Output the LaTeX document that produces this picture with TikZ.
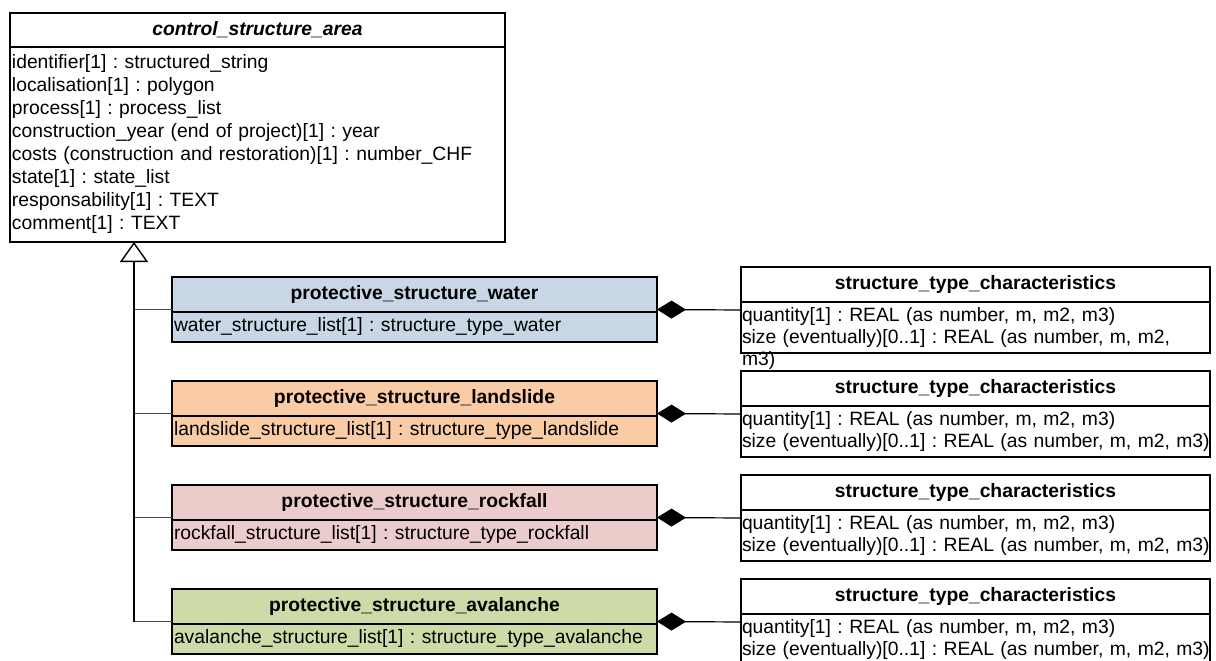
\documentclass[tikz,border=0pt]{standalone}
\usepackage{fontspec}
\setmainfont{Liberation Sans}
\usetikzlibrary{arrows.meta,fit}
\definecolor{watercol}{RGB}{201,214,230}
\definecolor{landslidecol}{RGB}{250,204,166}
\definecolor{rockfallcol}{RGB}{236,203,203}
\definecolor{avalanchecol}{RGB}{204,219,168}
\tikzstyle{every node}=[draw=black,line width=1.4pt,outer sep=0pt,font=\fontsize{19.3}{23}\selectfont]
\tikzstyle{head}=[minimum height=35pt,inner sep=0pt,font=\fontsize{19.3}{23}\selectfont\bfseries]
\tikzstyle{attrs}=[anchor=north,inner xsep=2pt,inner ysep=0pt,align=left]
\tikzstyle{charattrs}=[attrs,inner xsep=1pt,minimum width=469pt,minimum height=51pt,text width=467pt,text height=14pt,text depth=26pt,font=\fontsize{19.3}{22}\selectfont]
\tikzstyle{whole}=[draw=none,inner sep=0pt]
\tikzstyle{generalisation}=[line width=1.4pt,-{Triangle[open,length=20pt,width=28pt]}]
\tikzstyle{branch}=[line width=1pt,black!70]
\tikzstyle{composition}=[line width=1.2pt,{Diamond[length=29pt,width=18pt]}-]

\begin{document}
\frenchspacing
\begin{tikzpicture}[x=1pt,y=-1pt]
	\useasboundingbox (0,0) rectangle (1216,661);
	\clip (0,0) rectangle (1216,661);
	\node[head,minimum width=495pt,minimum height=34pt,font=\fontsize{19.3}{23}\selectfont\bfseries\itshape] (areat) at (257.5,30) {control\_structure\_area};
	\node[attrs,minimum width=495pt,minimum height=195pt,text width=491pt] (areaa) at (areat.south) {identifier[1] : structured\_string\\localisation[1] : polygon\\process[1] : process\_list\\construction\_year (end of project)[1] : year\\costs (construction and restoration)[1] : number\_CHF\\state[1] : state\_list\\responsability[1] : TEXT\\comment[1] : TEXT};

	\node[head,fill=watercol,minimum width=485pt] (watert) at (414.5,294.5) {protective\_structure\_water};
	\node[attrs,fill=watercol,minimum width=485pt,minimum height=30pt,text width=481pt] (watera) at (watert.south) {water\_structure\_list[1] : structure\_type\_water};
	\node[whole,fit=(watert)(watera)] (water) {};
	\node[head,fill=landslidecol,minimum width=485pt] (landslidet) at (414.5,398.5) {protective\_structure\_landslide};
	\node[attrs,fill=landslidecol,minimum width=485pt,minimum height=30pt,text width=481pt] (landslidea) at (landslidet.south) {landslide\_structure\_list[1] : structure\_type\_landslide};
	\node[whole,fit=(landslidet)(landslidea)] (landslide) {};
	\node[head,fill=rockfallcol,minimum width=485pt] (rockfallt) at (414.5,502.5) {protective\_structure\_rockfall};
	\node[attrs,fill=rockfallcol,minimum width=485pt,minimum height=30pt,text width=481pt] (rockfalla) at (rockfallt.south) {rockfall\_structure\_list[1] : structure\_type\_rockfall};
	\node[whole,fit=(rockfallt)(rockfalla)] (rockfall) {};
	\node[head,fill=avalanchecol,minimum width=485pt] (avalanchet) at (414.5,606.5) {protective\_structure\_avalanche};
	\node[attrs,fill=avalanchecol,minimum width=485pt,minimum height=30pt,text width=481pt] (avalanchea) at (avalanchet.south) {avalanche\_structure\_list[1] : structure\_type\_avalanche};
	\node[whole,fit=(avalanchet)(avalanchea)] (avalanche) {};

	\node[head,minimum width=469pt] (chart1) at (975.5,284.5) {structure\_type\_characteristics};
	\node[charattrs] (chara1) at (chart1.south) {quantity[1] : REAL (as number, m, m2, m3)\\size (eventually)[0..1] : REAL (as number, m, m2,\\m3)};
	\node[whole,fit=(chart1)(chara1)] (char1) {};
	\node[head,minimum width=469pt] (chart2) at (975.5,388.5) {structure\_type\_characteristics};
	\node[charattrs] (chara2) at (chart2.south) {quantity[1] : REAL (as number, m, m2, m3)\\\mbox{size (eventually)[0..1] : REAL (as number, m, m2, m3)}};
	\node[whole,fit=(chart2)(chara2)] (char2) {};
	\node[head,minimum width=469pt] (chart3) at (975.5,492.5) {structure\_type\_characteristics};
	\node[charattrs] (chara3) at (chart3.south) {quantity[1] : REAL (as number, m, m2, m3)\\\mbox{size (eventually)[0..1] : REAL (as number, m, m2, m3)}};
	\node[whole,fit=(chart3)(chara3)] (char3) {};
	\node[head,minimum width=469pt] (chart4) at (975.5,596.5) {structure\_type\_characteristics};
	\node[charattrs] (chara4) at (chart4.south) {quantity[1] : REAL (as number, m, m2, m3)\\\mbox{size (eventually)[0..1] : REAL (as number, m, m2, m3)}};
	\node[whole,fit=(chart4)(chara4)] (char4) {};

	\coordinate (fork) at ([xshift=124pt]areaa.south west);
	\draw[branch] (water.west) -- (water.west -| fork);
	\draw[branch] (landslide.west) -- (landslide.west -| fork);
	\draw[branch] (rockfall.west) -- (rockfall.west -| fork);
	\draw[branch] (avalanche.west) -- (avalanche.west -| fork);
	\draw[generalisation] (avalanche.west -| fork) -- (fork);

	\draw[composition] (water.east) -- (char1.west);
	\draw[composition] (landslide.east) -- (char2.west);
	\draw[composition] (rockfall.east) -- (char3.west);
	\draw[composition] (avalanche.east) -- (char4.west);
\end{tikzpicture}
\end{document}
